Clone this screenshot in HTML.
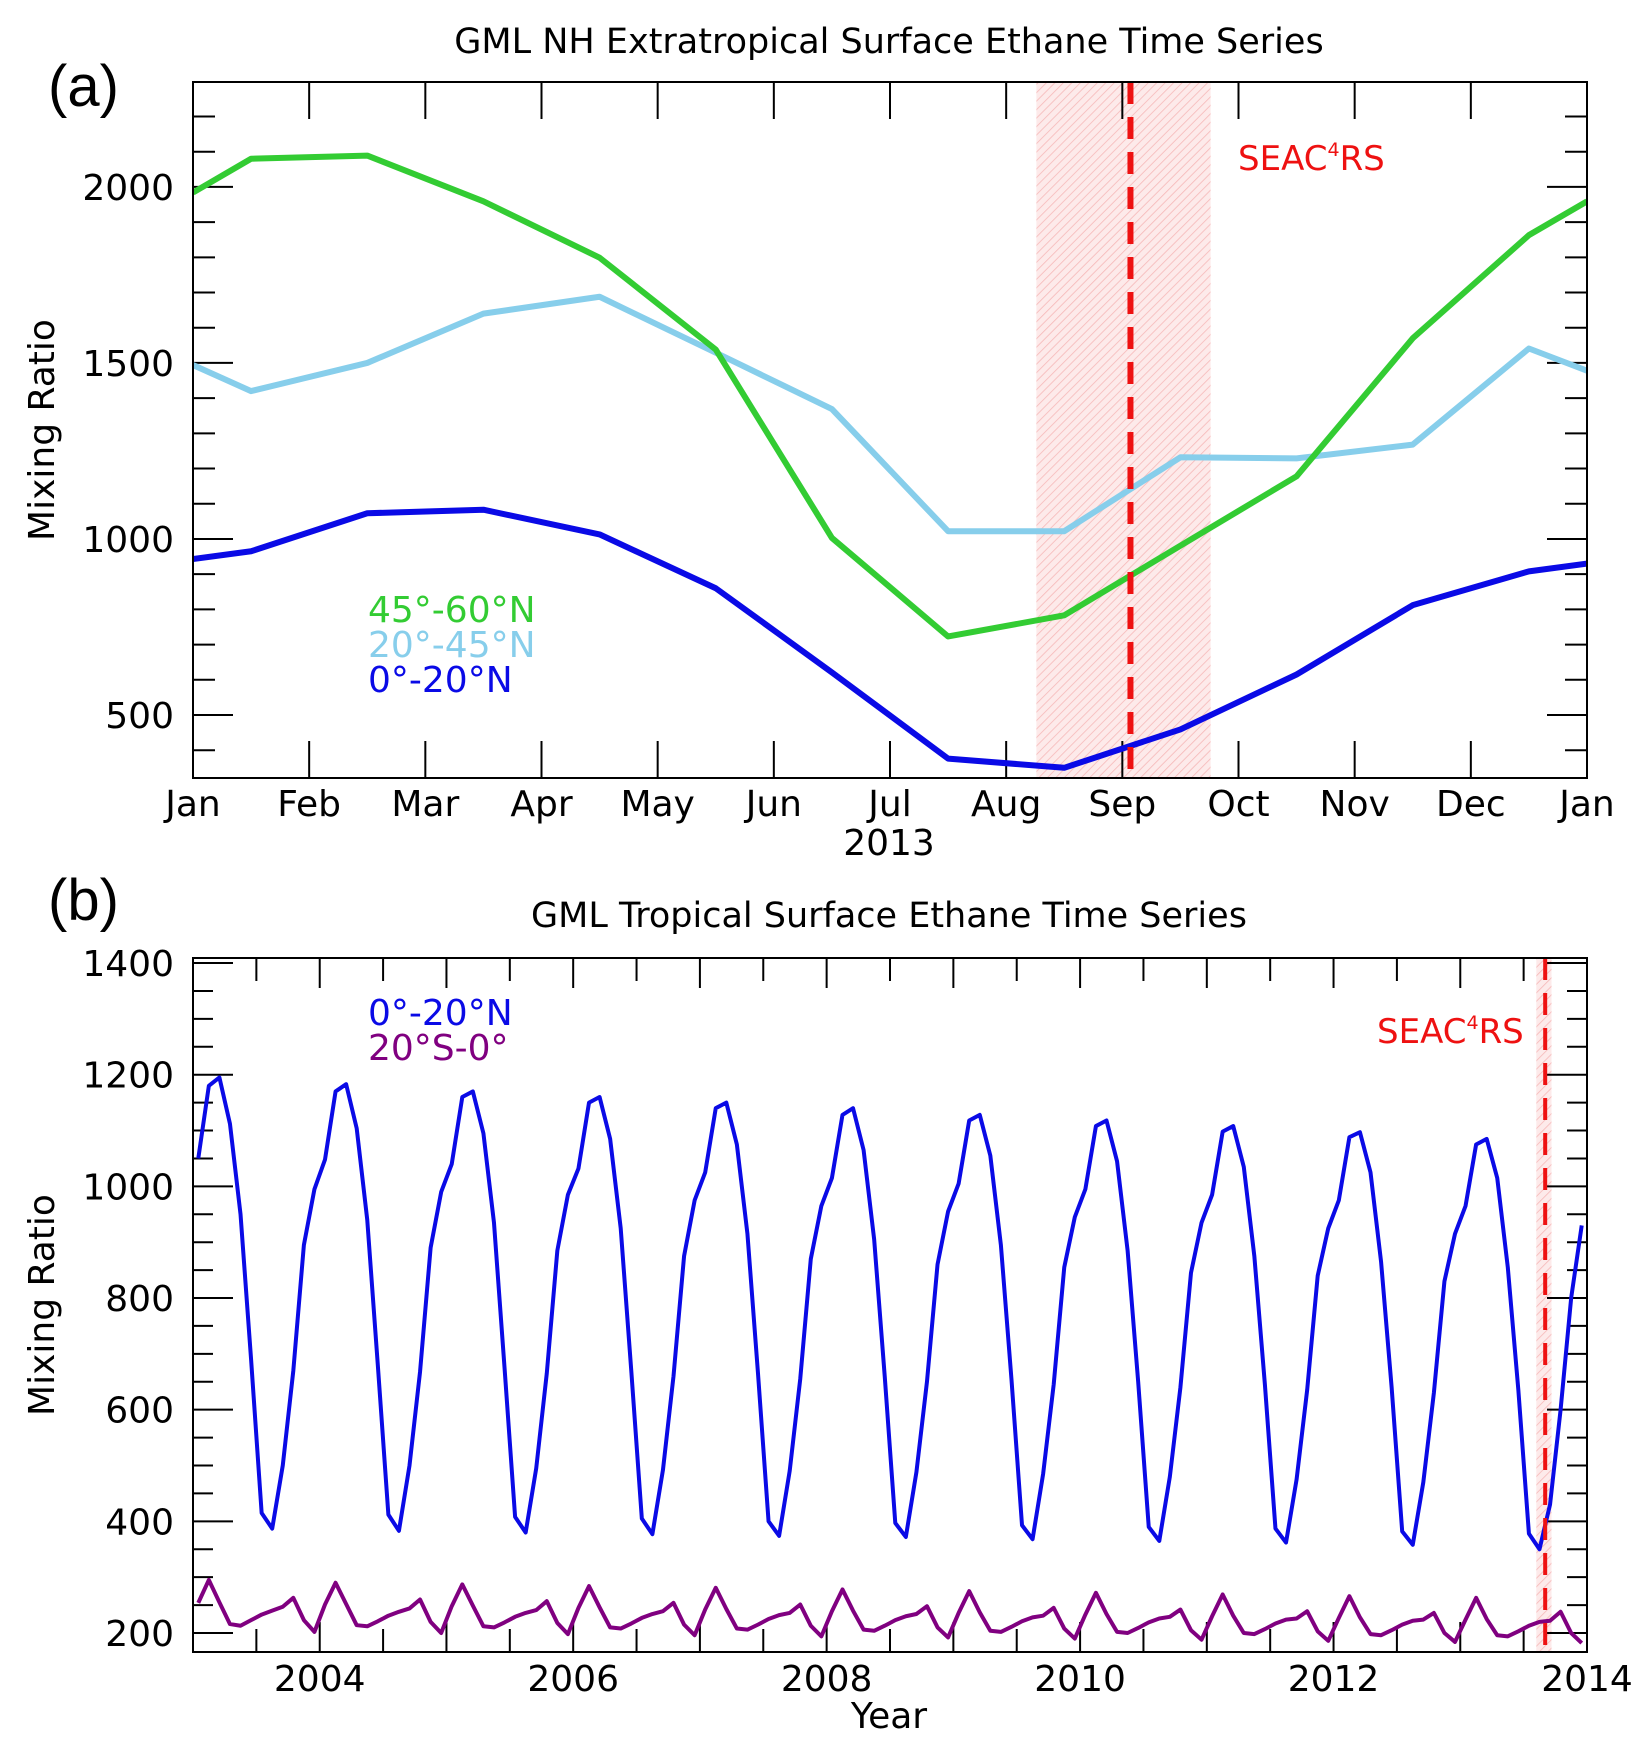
<!DOCTYPE html>
<html><head><meta charset="utf-8"><style>
html,body{margin:0;padding:0;background:#fff;}
svg{display:block;font-family:"DejaVu Sans","Liberation Sans",sans-serif;}
</style></head><body>
<svg id="fig" width="1648" height="1749" viewBox="0 0 1648 1749">
<defs>
<pattern id="hatch" width="6" height="6" patternUnits="userSpaceOnUse" patternTransform="rotate(45)">
<rect width="6" height="6" fill="#fdeaea"/><line x1="0" y1="0" x2="0" y2="6" stroke="#f6b8b8" stroke-width="1.6"/>
</pattern>
<clipPath id="clipA"><rect x="193" y="82" width="1394" height="696"/></clipPath>
<clipPath id="clipB"><rect x="193" y="958" width="1394" height="694"/></clipPath>
</defs>
<g id="pa"></g>
<g id="pb"></g>
</svg>
<script>
// ---- Panel (a) data ----
const monthLabels = ["Jan","Feb","Mar","Apr","May","Jun","Jul","Aug","Sep","Oct","Nov","Dec","Jan"];
const aMonths = [0,0.5,1.5,2.5,3.5,4.5,5.5,6.5,7.5,8.5,9.5,10.5,11.5,12];
const aGreen = [1984,2080,2089,1959,1799,1538,1003,723,783,981,1178,1570,1863,1959];
const aLightBlue = [1494,1420,1500,1640,1688,1529,1369,1022,1022,1232,1229,1268,1541,1478];
const aBlue = [943,965,1073,1083,1013,860,621,376,350,459,615,812,908,930];
const aYTicks = [500,1000,1500,2000];
const aCampaign = [7.26,8.76];
const aCampaignMid = [8.07];
// ---- Panel (b) data ----
const bYearTicks = [2004,2006,2008,2010,2012,2014];
const bYTicks = [200,400,600,800,1000,1200,1400];
const bNorth = [
1050,1180,1195,1112,950,690,415,387,500,670,895,995,
1048,1170,1183,1104,940,680,412,383,500,668,890,990,
1040,1160,1170,1095,935,675,408,380,495,665,885,985,
1032,1150,1160,1085,925,670,405,377,492,660,875,975,
1025,1140,1150,1075,915,665,400,374,490,655,870,965,
1015,1128,1140,1065,905,660,397,372,488,650,860,955,
1005,1118,1128,1055,895,655,393,368,485,645,855,945,
995,1108,1118,1045,885,650,390,365,480,640,845,935,
985,1098,1108,1035,875,645,387,362,475,635,840,925,
975,1088,1097,1025,865,640,382,358,470,630,830,915,
965,1075,1085,1015,855,635,378,350,430,600,800,930];
const bSouth = [
254,295,255,216,213,223,233,240,247,263,223,202,
251,290,252,214,212,221,231,238,244,260,220,200,
248,287,249,212,210,219,229,236,241,257,218,198,
245,284,246,210,208,217,227,234,239,254,215,196,
242,281,243,208,206,215,225,232,236,251,213,194,
239,278,240,206,204,213,223,230,234,248,210,192,
236,275,237,204,202,211,221,228,231,245,208,190,
233,272,234,202,200,209,219,226,229,242,205,188,
230,269,231,200,198,207,217,224,226,239,203,186,
227,266,228,198,196,205,215,222,224,236,200,184,
224,263,225,196,194,203,213,220,222,238,200,182];
const bCampaign = [2013.60,2013.72];
const bCampaignMid = [2013.67];

const NS="http://www.w3.org/2000/svg";
function mk(parent,tag,attrs,text){const e=document.createElementNS(NS,tag);for(const k in attrs)e.setAttribute(k,attrs[k]);if(text!==undefined)e.textContent=text;parent.appendChild(e);return e;}

// ---------- Panel A ----------
(function(){
const g=document.getElementById('pa');
const L=193,R=1587,T=82,B=778;
const x=m=>L+(R-L)*m/12;
const y=v=>B-(v-321)*(B-T)/(2298-321);
const sh=mk(g,'rect',{x:x(aCampaign[0]),y:T,width:x(aCampaign[1])-x(aCampaign[0]),height:B-T,fill:'url(#hatch)'});


for(let i=0;i<=12;i++){
  const t1=mk(g,'line',{x1:x(i),y1:T,x2:x(i),y2:T+37,stroke:'#000','stroke-width':2});
  
  
  const t2=mk(g,'line',{x1:x(i),y1:B,x2:x(i),y2:B-37,stroke:'#000','stroke-width':2});
  
  
  const lb=mk(g,'text',{x:x(i),y:816,'font-size':36,'text-anchor':'middle'},monthLabels[i]);
  
  
}
for(let v=400;v<=2200;v+=100){
  const major=v%500===0;const len=major?40:22;
  const a=mk(g,'line',{x1:L,y1:y(v),x2:L+len,y2:y(v),stroke:'#000','stroke-width':2});
  
  
  const b=mk(g,'line',{x1:R,y1:y(v),x2:R-len,y2:y(v),stroke:'#000','stroke-width':2});
  
  
}
aYTicks.forEach(v=>{const t=mk(g,'text',{x:174,y:y(v)+13,'font-size':36,'text-anchor':'end'},String(v));
  
  });
const series=[[aGreen,'#33cc33','line-45-60N'],[aLightBlue,'#87ceeb','line-20-45N'],[aBlue,'#0a0ae6','line-0-20N']];
const order=[1,0,2];
order.forEach(i=>{const s=series[i];
  const p=mk(g,'polyline',{points:aMonths.map((m,j)=>x(m)+','+y(s[0][j])).join(' '),fill:'none',stroke:s[1],'stroke-width':6,'stroke-linejoin':'round','clip-path':'url(#clipA)'});
  
  });
const d=mk(g,'line',{x1:x(aCampaignMid[0]),y1:T,x2:x(aCampaignMid[0]),y2:B,stroke:'#ee1111','stroke-width':6,'stroke-dasharray':'22 13'});


const fr=mk(g,'rect',{x:L,y:T,width:R-L,height:B-T,fill:'none',stroke:'#000','stroke-width':2});


})();

// ---------- Panel B ----------
(function(){
const g=document.getElementById('pb');
const L=193,R=1587,T=958,B=1652;
const x=t=>L+(R-L)*(t-2003)/11;
const y=v=>1633-(v-200)*0.5583;
const sh=mk(g,'rect',{x:x(bCampaign[0]),y:T,width:x(bCampaign[1])-x(bCampaign[0]),height:B-T,fill:'url(#hatch)'});


for(let t=2003;t<=2014.01;t+=0.5){
  const len=Math.abs(t-Math.round(t))<0.01?30:23;
  const a=mk(g,'line',{x1:x(t),y1:T,x2:x(t),y2:T+len,stroke:'#000','stroke-width':2});
  
  
  const b=mk(g,'line',{x1:x(t),y1:B,x2:x(t),y2:B-len,stroke:'#000','stroke-width':2});
  
  
}
bYearTicks.forEach(t=>{const l=mk(g,'text',{x:x(t),y:1691,'font-size':36,'text-anchor':'middle'},String(t));
  
  });
for(let v=200;v<=1400;v+=50){
  const major=v%200===0;const len=major?40:20;
  const a=mk(g,'line',{x1:L,y1:y(v),x2:L+len,y2:y(v),stroke:'#000','stroke-width':2});
  
  
  const b=mk(g,'line',{x1:R,y1:y(v),x2:R-len,y2:y(v),stroke:'#000','stroke-width':2});
  
  
}
bYTicks.forEach(v=>{const t=mk(g,'text',{x:174,y:y(v)+13,'font-size':36,'text-anchor':'end'},String(v));
  
  });
const ptsN=bNorth.map((v,i)=>x(2003+(i+0.5)/12)+','+y(v));
const pn=mk(g,'polyline',{points:ptsN.join(' '),fill:'none',stroke:'#0a0ae6','stroke-width':4,'stroke-linejoin':'round','clip-path':'url(#clipB)'});


const ptsS=bSouth.map((v,i)=>x(2003+(i+0.5)/12)+','+y(v));
const ps=mk(g,'polyline',{points:ptsS.join(' '),fill:'none',stroke:'#800080','stroke-width':4,'stroke-linejoin':'round','clip-path':'url(#clipB)'});


const d=mk(g,'line',{x1:x(bCampaignMid[0]),y1:T,x2:x(bCampaignMid[0]),y2:B,stroke:'#ee1111','stroke-width':4,'stroke-dasharray':'22 13'});


const fr=mk(g,'rect',{x:L,y:T,width:R-L,height:B-T,fill:'none',stroke:'#000','stroke-width':2});


})();
</script>
<svg width="1648" height="1749" style="position:absolute;left:0;top:0;font-family:'DejaVu Sans','Liberation Sans',sans-serif">
<text x="48" y="106" font-size="58" font-family="Liberation Sans, sans-serif">(a)</text>
<text x="889" y="53" font-size="35" text-anchor="middle">GML NH Extratropical Surface Ethane Time Series</text>
<text x="889" y="855" font-size="36" text-anchor="middle">2013</text>
<text transform="translate(54,430) rotate(-90)" font-size="36" text-anchor="middle">Mixing Ratio</text>
<text x="1238" y="170" font-size="34" fill="#ee1111">SEAC<tspan dy="-14" font-size="19">4</tspan><tspan dy="14">RS</tspan></text>
<text x="368" y="622" font-size="36" fill="#33cc33">45°-60°N</text>
<text x="368" y="657" font-size="36" fill="#87ceeb">20°-45°N</text>
<text x="368" y="692" font-size="36" fill="#0a0ae6">0°-20°N</text>
<text x="48" y="920" font-size="58" font-family="Liberation Sans, sans-serif">(b)</text>
<text x="889" y="927" font-size="35" text-anchor="middle">GML Tropical Surface Ethane Time Series</text>
<text x="889" y="1728" font-size="36" text-anchor="middle">Year</text>
<text transform="translate(54,1305) rotate(-90)" font-size="36" text-anchor="middle">Mixing Ratio</text>
<text x="1377" y="1043" font-size="34" fill="#ee1111">SEAC<tspan dy="-14" font-size="19">4</tspan><tspan dy="14">RS</tspan></text>
<text x="368" y="1025" font-size="36" fill="#0a0ae6">0°-20°N</text>
<text x="368" y="1060" font-size="36" fill="#800080">20°S-0°</text>
</svg>
</body></html>
